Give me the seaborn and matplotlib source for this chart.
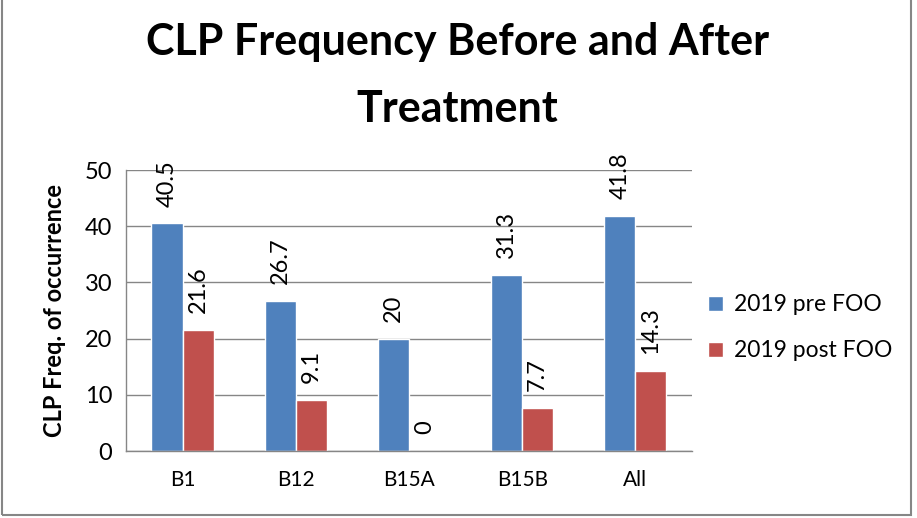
import numpy as np
import pandas as pd
import matplotlib.pyplot as plt
import seaborn as sns
from matplotlib.patches import Rectangle

# Data
sites = ["B1", "B12", "B15A", "B15B", "All"]
pre_foo = [40.5, 26.7, 20, 31.3, 41.8]
post_foo = [21.6, 9.1, 0, 7.7, 14.3]
series_names = ["2019 pre FOO", "2019 post FOO"]
colors = ["#4F81BD", "#C0504D"]
title_lines = ["CLP Frequency Before and After", "Treatment"]

df = pd.DataFrame({
    "site": sites * 2,
    "value": pre_foo + post_foo,
    "series": [series_names[0]] * len(sites) + [series_names[1]] * len(sites),
})

sns.set_style("white")
plt.rcParams['font.family'] = ['Lato', 'DejaVu Sans']
plt.rcParams['text.color'] = 'black'
plt.rcParams['axes.labelcolor'] = 'black'

fig = plt.figure(figsize=(9.17, 5.18), dpi=100)
ax = fig.add_axes([0.1374, 0.1293, 0.6172, 0.5425])

sns.barplot(data=df, x="site", y="value", hue="series", palette=colors,
            width=0.55, saturation=1, ax=ax, legend=True)

# bar value labels, rotated like the original
for cont in ax.containers:
    for bar in cont:
        h = bar.get_height()
        ax.annotate(f"{h:g}", (bar.get_x() + bar.get_width() / 2, h),
                    xytext=(0, 12), textcoords="offset points",
                    ha="center", va="bottom", rotation=90, fontsize=17,
                    color="black")

ax.set_ylim(0, 50)
ax.set_xlim(-0.5, 4.5)
ax.set_yticks(np.arange(0, 51, 10))
ax.yaxis.grid(True, color="#868686", lw=1)
ax.set_axisbelow(True)

for s in ["top", "right"]:
    ax.spines[s].set_visible(False)
for s in ["left", "bottom"]:
    ax.spines[s].set_color("#868686")
    ax.spines[s].set_linewidth(1)

# Excel-style ticks between categories
ax.set_xticks(np.arange(-0.5, 5, 1), minor=True)
ax.tick_params(axis="x", which="major", length=0, pad=14, labelsize=15,
               labelcolor="black")
ax.tick_params(axis="x", which="minor", length=6, color="#868686", direction="out")
ax.tick_params(axis="y", length=6, color="#868686", direction="out", labelsize=17,
               pad=4, labelcolor="black")
ax.set_xlabel("")
ax.set_ylabel("CLP Freq. of occurrence", fontsize=17, fontweight="bold", labelpad=13)

handles, labels = ax.get_legend_handles_labels()
ax.get_legend().remove()
fig.legend(handles, labels, loc="center left", bbox_to_anchor=(0.772, 0.367),
           frameon=False, fontsize=16.5, handlelength=0.65, handleheight=0.65,
           handletextpad=0.5, labelspacing=1.1, borderpad=0, borderaxespad=0)

# two-line title, bold
fig.text(0.499, 1 - 55 / 518, title_lines[0], ha="center", va="baseline",
         fontsize=31, fontweight="bold")
fig.text(0.499, 1 - 122 / 518, title_lines[1], ha="center", va="baseline",
         fontsize=31, fontweight="bold")

# outer chart border
fig.patches.append(Rectangle((0.002, 0.005), 0.992, 1.2, transform=fig.transFigure,
                             fill=False, edgecolor="#868686", lw=1.5))

fig.savefig("out.png", dpi=100)
